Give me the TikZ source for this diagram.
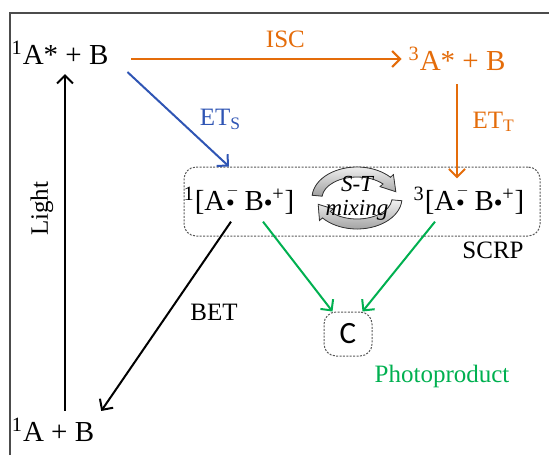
\documentclass[tikz,border=0pt]{standalone}
\usepackage{fontspec}
\setmainfont{Liberation Serif}
\newfontfamily\calibri{Carlito}
\usepackage{tikz}
\usetikzlibrary{arrows.meta}
\definecolor{triplet}{RGB}{228,108,10}
\definecolor{singlet}{RGB}{47,85,180}
\definecolor{product}{RGB}{0,176,80}
\newcommand{\rpair}[1]{\textsuperscript{#1}[A\hspace{0.5pt}\makebox[0pt][l]{\raisebox{1.25ex}{\scriptsize$-$}}\raisebox{0.35ex}{\scriptsize$\bullet$}\hspace{0.35em}B\raisebox{0.35ex}{\scriptsize$\bullet$}\textsuperscript{+}]}

\begin{document}
\begin{tikzpicture}[x=0.5pt,y=-0.5pt,
    lbl/.style={font=\fontsize{12.5}{14}\selectfont},
    spec/.style={font=\fontsize{14.5}{17}\selectfont},
    arr/.style={line width=1pt,-{Straight Barb[length=4pt,width=8pt]}},
    box/.style={draw=black!65,line width=0.5pt,dash pattern=on 1pt off 0.7pt,rounded corners=6pt},
    mixarrow/.style={draw=black!80,line width=0.4pt,top color=gray!10,bottom color=gray!75}]
  \useasboundingbox (0,0) rectangle (549,455);
  % frame
  \draw[black!70,line width=0.8pt] (10,455) -- (10,13) -- (549,13);
  % species
  \node[spec] (s1) at (60,53) {\textsuperscript{1}A* + B};
  \node[spec,triplet] (t1) at (457,59) {\textsuperscript{3}A* + B};
  \node[spec] (s0) at (53,430) {\textsuperscript{1}A + B};
  % radical pairs
  \node[box,minimum width=178pt,minimum height=34.5pt] (scrp) at (362,201.5) {};
  \node[spec] (rp1) at (239,200) {\rpair{1}};
  \node[spec] (rp3) at (469,200) {\rpair{3}};
  \node[lbl] (scrplbl) at (493,250) {SCRP};
  % S-T mixing
  \begin{scope}[shift={(357,198)}]
    \filldraw[mixarrow] (-175:45 and 31) arc[start angle=-175,end angle=-42,x radius=45,y radius=31]
      -- (-42:49 and 35) -- (-14:40 and 26) -- (-42:31 and 17) -- (-42:35 and 21)
      arc[start angle=-42,end angle=-175,x radius=35,y radius=21] -- cycle;
    \filldraw[mixarrow] (5:45 and 31) arc[start angle=5,end angle=140,x radius=45,y radius=31]
      -- (140:49 and 35) -- (166:40 and 26) -- (140:31 and 17) -- (140:35 and 21)
      arc[start angle=140,end angle=5,x radius=35,y radius=21] -- cycle;
  \end{scope}
  \node[font=\itshape\fontsize{11.5}{12}\selectfont,align=center] (mixlbl) at (357,198) {S-T\\mixing};
  % product
  \node[box,font=\calibri\fontsize{15.5}{18}\selectfont,minimum width=24pt,minimum height=22pt] (c) at (348,334) {C};
  \node[lbl,product] (prodlbl) at (442,376) {Photoproduct};
  % arrows
  \draw[arr,triplet] ([xshift=8pt]s1.east |- t1) -- (t1.west)
    node[lbl,pos=0.57,above=2pt] (isclbl) {ISC};
  \draw[arr,singlet] ([xshift=6pt]s1.south east) -- ([xshift=-5pt]rp1.north |- scrp.north)
    node[lbl,pos=0.5,right=7pt] (etslbl) {ET\textsubscript{S}};
  \draw[arr,triplet] ([yshift=-3pt]t1.south) -- (t1.south |- rp3.north)
    node[lbl,pos=0.4,right=4pt] (ettlbl) {ET\textsubscript{T}};
  \draw[arr,product] ([xshift=12pt]rp1.south) -- ([xshift=4.5pt]c.north west);
  \draw[arr,product] ([xshift=-17pt]rp3.south) -- ([xshift=-5pt]c.north east);
  \draw[arr] ([xshift=-4pt]rp1.south) -- (s0.north east)
    node[lbl,pos=0.48,right=7pt] (betlbl) {BET};
  \draw[arr] ([xshift=6pt]s0.north) -- ([xshift=2.5pt,yshift=-1pt]s1.south)
    node[lbl,pos=0.6,rotate=90,above=2pt] (lightlbl) {Light};
\end{tikzpicture}
\end{document}
